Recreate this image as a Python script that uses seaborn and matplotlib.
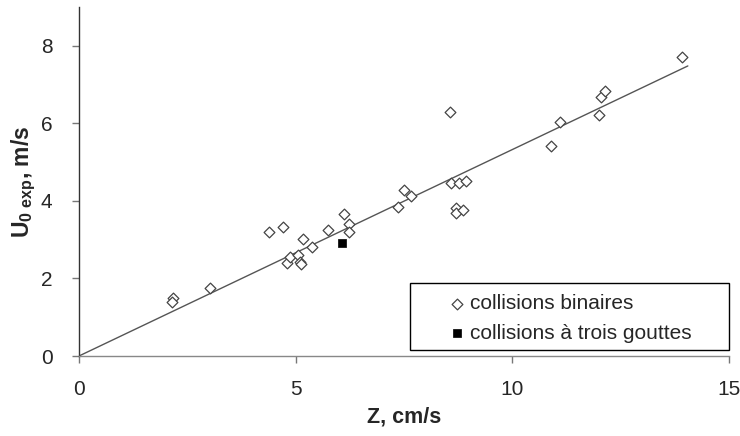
import matplotlib
matplotlib.use("Agg")
import matplotlib.pyplot as plt
from matplotlib.patches import Rectangle
import seaborn as sns
import pandas as pd

# Data
binary_z = [2.17, 2.14, 3.02, 4.38, 4.70, 4.79, 4.88, 5.05, 5.09, 5.12, 5.16, 5.37,
            5.74, 6.11, 6.22, 6.24, 7.37, 7.49, 7.65, 8.57, 8.59, 8.71, 8.71, 8.78,
            8.87, 8.94, 10.90, 11.11, 12.00, 12.05, 12.14, 13.92]
binary_u = [1.50, 1.39, 1.76, 3.20, 3.32, 2.40, 2.55, 2.61, 2.43, 2.38, 3.02, 2.82,
            3.25, 3.66, 3.40, 3.20, 3.85, 4.28, 4.13, 6.30, 4.46, 3.82, 3.69, 4.46,
            3.77, 4.51, 5.42, 6.04, 6.22, 6.68, 6.84, 7.72]
triple_z = [6.08]
triple_u = [2.92]
fit_z = [0.0, 14.05]
fit_u = [0.0, 7.48]
x_ticks = [0, 5, 10, 15]
y_ticks = [0, 2, 4, 6, 8]
label_binary = "collisions binaires"
label_triple = "collisions à trois gouttes"

sns.set_theme(style="white")
plt.rcParams['font.family'] = ['Liberation Sans', 'DejaVu Sans']
plt.rcParams['mathtext.fontset'] = 'custom'
plt.rcParams['mathtext.rm'] = 'Liberation Sans'
plt.rcParams['mathtext.bf'] = 'Liberation Sans:bold'

fig = plt.figure(figsize=(7.4, 4.36), dpi=100)
ax = fig.add_axes([79/740, 80/436, 650/740, 349/436])

df_b = pd.DataFrame({"z": binary_z, "u": binary_u})
df_t = pd.DataFrame({"z": triple_z, "u": triple_u})
df_f = pd.DataFrame({"z": fit_z, "u": fit_u})

sns.lineplot(data=df_f, x="z", y="u", ax=ax, color="#555555", linewidth=1.0, zorder=1)
sns.scatterplot(data=df_b, x="z", y="u", ax=ax, marker="D", s=30,
                facecolor="white", edgecolor="#444444", linewidth=0.9,
                label=label_binary, zorder=3)
sns.scatterplot(data=df_t, x="z", y="u", ax=ax, marker="s", s=40,
                color="black", edgecolor="black", linewidth=0.5,
                label=label_triple, zorder=3)

ax.set_xlim(0, 15)
ax.set_ylim(0, 9)
ax.set_xticks(x_ticks)
ax.set_yticks(y_ticks)
ax.tick_params(axis='both', which='both', direction='out', length=5, width=1,
               color='#777777', labelsize=15, left=True, bottom=True)
ax.tick_params(axis='x', pad=12)
ax.tick_params(axis='y', pad=14)
for s in ['top', 'right']:
    ax.spines[s].set_visible(False)
ax.spines['left'].set_color('#333333')
ax.spines['bottom'].set_color('#888888')
ax.spines['left'].set_linewidth(1.0)
ax.spines['bottom'].set_linewidth(1.0)

ax.set_xlabel("Z, cm/s", fontsize=15.5, fontweight='bold', labelpad=6)
ax.set_ylabel(r"U$_{\mathbf{0\ exp}}$, m/s", fontsize=16.5, fontweight='bold', labelpad=2)

leg = ax.legend(loc='center left', bbox_to_anchor=(0.552, 0.108), fontsize=15,
                frameon=False, handletextpad=0.15, borderpad=0.4, labelspacing=0.5,
                handlelength=1.0, borderaxespad=0.0)
ax.add_patch(Rectangle((0.509, 0.017), 0.491, 0.192, transform=ax.transAxes,
                       facecolor='white', edgecolor='black', linewidth=1.0,
                       zorder=4, clip_on=False))
leg.set_zorder(5)

fig.savefig("out.png", dpi=100)
